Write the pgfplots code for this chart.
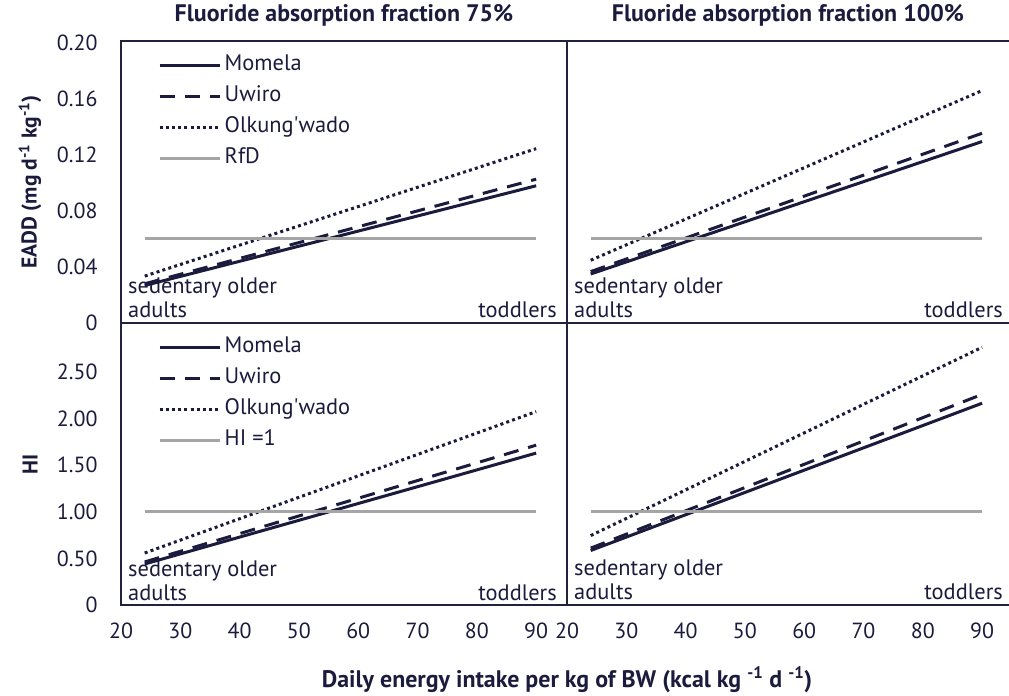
\documentclass[border=0pt]{standalone}
\usepackage{pgfplots}
\pgfplotsset{compat=1.18}
\usepackage{fontspec}
\setmainfont{PT Sans}[Ligatures=TeXOff]
\definecolor{navy}{HTML}{1B1B3D}
\definecolor{framec}{HTML}{22223F}
\definecolor{rfd}{HTML}{A5A5A5}
\newcommand{\tf}{\fontsize{22.5}{26}\selectfont}
\newcommand{\tk}{\fontsize{22}{26}\selectfont}
\newcommand{\bff}{\fontsize{24}{28}\selectfont\bfseries}
\newcommand{\byl}{\fontsize{21.5}{26}\selectfont\bfseries}
\pgfplotsset{
  base/.style={
    scale only axis, xmin=20, ymin=0, height=282bp, clip=false,
    axis line style={framec, line width=1.8bp, -},
    every outer x axis line/.append style={-},
    every outer y axis line/.append style={-},
    major tick length=0pt, tick style={draw=none},
    ticklabel style={font=\tk, text=navy},
    xtick={20,30,...,90},
    xticklabel style={yshift=-14bp},
    yticklabel style={xshift=-20bp},
    title style={font=\bff, text=navy, anchor=center, at={(axis description cs:0.5,1)}, yshift=20bp},
    label style={font=\bff, text=navy},
    ylabel style={font=\byl},
    legend style={draw=none, fill=none, at={(axis description cs:0,1)}, anchor=north west,
      xshift=34bp, yshift=-8bp, font=\tf, text=navy, row sep=3bp,
      nodes={text height=16bp, text depth=5bp, inner sep=3.5bp}},
    legend cell align=left,
    legend image code/.code={\draw[##1] (0bp,0bp) -- (60bp,0bp);},
  },
  pL/.style={width=446bp, xmax=95.2},
  pR/.style={width=442bp, xmax=94.54, axis x line=box, axis y line=left,
    y axis line style={-}, every outer y axis line/.append style={-}, every inner y axis line/.append style={-},
    ymajorticks=false},
  pT/.style={ymax=0.2014, ytick={0,0.04,0.08,0.12,0.16,0.20}, xticklabels={}},
  pB/.style={ymax=3.026, ytick={0,0.5,1,1.5,2,2.5}, xticklabels={20,30,40,50,60,70,80,90}},
  msolid/.style={navy, line width=3bp},
  mdash/.style={navy, line width=3bp, dash pattern=on 15bp off 10bp},
  mdot/.style={navy, line width=3bp, dash pattern=on 3bp off 3.2bp},
  mref/.style={rfd, line width=3bp},
}
\newcommand{\annot}[1]{%
  \node[anchor=base west, inner sep=0pt, font=\tf, text=navy, xshift=7bp, yshift=29bp] at (rel axis cs:0,0) {sedentary older};
  \node[anchor=base west, inner sep=0pt, font=\tf, text=navy, xshift=7bp, yshift=5bp] at (rel axis cs:0,0) {adults};
  \node[anchor=base east, inner sep=0pt, font=\tf, text=navy, xshift=-#1, yshift=5bp] at (rel axis cs:1,0) {toddlers};
}
\begin{document}
\begin{tikzpicture}
\path[use as bounding box] (0,0) rectangle (1009bp,696bp);
% top left
\begin{axis}[base, pT, pL, at={(121bp,373bp)}, anchor=south west,
  title={Fluoride absorption fraction 75\%},
  ylabel={EADD (mg d\textsuperscript{-1} kg\textsuperscript{-1})},
  ylabel style={at={(axis description cs:-0.204,0.5)}, anchor=center},
  yticklabels={0,0.04,0.08,0.12,0.16,0.20}]
\addplot[msolid] coordinates {(24,0.0268) (90,0.0980)};
\addlegendentry{Momela}
\addplot[mdash] coordinates {(24,0.0280) (90,0.1027)};
\addlegendentry{Uwiro}
\addplot[mdot] coordinates {(24,0.0335) (90,0.1245)};
\addlegendentry{Olkung'wado}
\addplot[mref] coordinates {(24,0.06) (90,0.06)};
\addlegendentry{RfD}
\annot{10bp}
\end{axis}
% top right
\begin{axis}[base, pT, pR, at={(567bp,373bp)}, anchor=south west,
  title={Fluoride absorption fraction 100\%}]
\addplot[msolid] coordinates {(24,0.0350) (90,0.1296)};
\addplot[mdash] coordinates {(24,0.0367) (90,0.1355)};
\addplot[mdot] coordinates {(24,0.0448) (90,0.1660)};
\addplot[mref] coordinates {(24,0.06) (90,0.06)};
\annot{6bp}
\end{axis}
% bottom left
\begin{axis}[base, pB, pL, at={(121bp,91bp)}, anchor=south west,
  ylabel={HI},
  ylabel style={at={(axis description cs:-0.204,0.5)}, anchor=center},
  yticklabels={0,0.50,1.00,1.50,2.00,2.50},
  xlabel={Daily energy intake per kg of BW (kcal kg \textsuperscript{-1} d \textsuperscript{-1})},
  xlabel style={at={(axis description cs:1,0)}, anchor=center, yshift=-75bp}]
\addplot[msolid] coordinates {(24,0.440) (90,1.630)};
\addlegendentry{Momela}
\addplot[mdash] coordinates {(24,0.462) (90,1.715)};
\addlegendentry{Uwiro}
\addplot[mdot] coordinates {(24,0.558) (90,2.075)};
\addlegendentry{Olkung'wado}
\addplot[mref] coordinates {(24,1) (90,1)};
\addlegendentry{HI =1}
\annot{10bp}
\end{axis}
% bottom right
\begin{axis}[base, pB, pR, at={(567bp,91bp)}, anchor=south west]
\addplot[msolid] coordinates {(24,0.585) (90,2.165)};
\addplot[mdash] coordinates {(24,0.610) (90,2.260)};
\addplot[mdot] coordinates {(24,0.745) (90,2.765)};
\addplot[mref] coordinates {(24,1) (90,1)};
\annot{6bp}
\end{axis}
\end{tikzpicture}
\end{document}
